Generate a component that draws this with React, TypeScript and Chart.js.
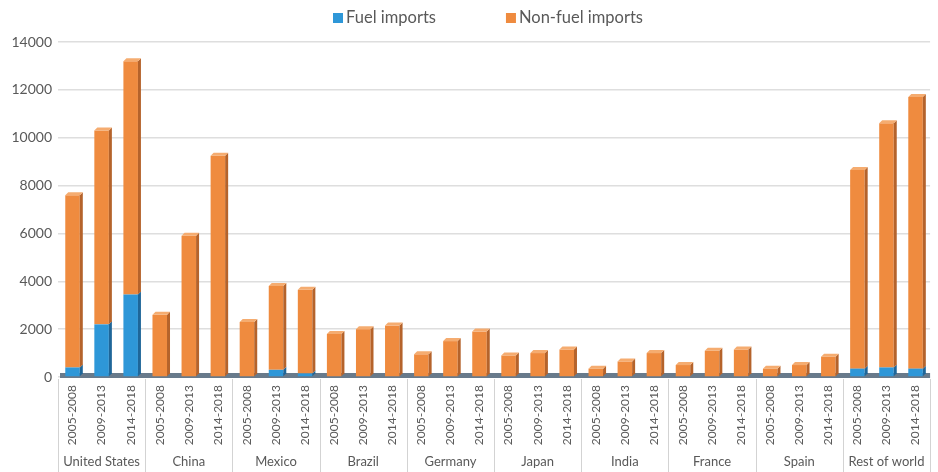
import React, { useEffect, useRef } from "react";
import { Chart, registerables } from "chart.js";

Chart.register(...registerables);

// Import values by country and period, as plotted
const countries = [
  "United States", "China", "Mexico", "Brazil", "Germany",
  "Japan", "India", "France", "Spain", "Rest of world",
];
const periods = ["2005-2008", "2009-2013", "2014-2018"];

const fuelImports = [
  400, 2200, 3450,
  0, 0, 0,
  0, 300, 150,
  0, 0, 0,
  0, 0, 0,
  0, 0, 0,
  0, 0, 0,
  0, 0, 0,
  0, 0, 0,
  350, 400, 350,
];
const nonFuelImports = [
  7200, 8100, 9750,
  2600, 5900, 9250,
  2300, 3500, 3500,
  1800, 2000, 2150,
  950, 1500, 1900,
  900, 1000, 1150,
  350, 650, 1000,
  500, 1100, 1150,
  350, 500, 850,
  8300, 10200, 11350,
];
const yMin = 0;
const yMax = 14000;
const yStep = 2000;

const FONT = "Lato, 'Open Sans', sans-serif";
const TEXT = "#595959";
const FUEL = "#2E97D8";
const NONFUEL = "#EF8B3F";
const SIDE: Record<string, string> = { [FUEL]: "#1E6699", [NONFUEL]: "#B5632B" };
const CAP = "#F5AC70";

const labels = countries.flatMap(() => periods);

// Gives the bars a shallow extruded look: darker right side plus a lighter top cap.
const extrudePlugin = {
  id: "extrude",
  beforeDatasetsDraw(chart: any) {
    const { ctx, chartArea } = chart;
    ctx.save();
    ctx.fillStyle = "#687A8B";
    ctx.fillRect(chartArea.left + 2, chartArea.bottom - 4, chartArea.right - chartArea.left - 2, 5);
    ctx.restore();
  },
  afterDatasetsDraw(chart: any) {
    const { ctx } = chart;
    const d = 3;
    const n = chart.data.datasets.length;
    ctx.save();
    chart.data.datasets.forEach((ds: any, di: number) => {
      const meta = chart.getDatasetMeta(di);
      meta.data.forEach((bar: any, i: number) => {
        const v = ds.data[i];
        if (!v) return;
        const { x, y, base, width } = bar.getProps(["x", "y", "base", "width"], true);
        const r = x + width / 2;
        const l = x - width / 2;
        ctx.fillStyle = SIDE[ds.backgroundColor];
        ctx.beginPath();
        ctx.moveTo(r, y);
        ctx.lineTo(r + d, y - d);
        ctx.lineTo(r + d, base - d);
        ctx.lineTo(r, base);
        ctx.closePath();
        ctx.fill();
        // cap only on the uppermost non-empty segment
        let top = true;
        for (let k = di + 1; k < n; k++) if (chart.data.datasets[k].data[i]) top = false;
        if (top) {
          ctx.fillStyle = ds.backgroundColor === FUEL ? "#5DB4E6" : CAP;
          ctx.beginPath();
          ctx.moveTo(l, y);
          ctx.lineTo(l + d, y - d);
          ctx.lineTo(r + d, y - d);
          ctx.lineTo(r, y);
          ctx.closePath();
          ctx.fill();
        }
      });
    });
    ctx.restore();
  },
};

// Country names under the period ticks, with separators between country groups.
const groupAxisPlugin = {
  id: "groupAxis",
  afterDraw(chart: any) {
    const { ctx, chartArea } = chart;
    const xs = chart.scales.x;
    const cw = (xs.right - xs.left) / labels.length;
    const h = chart.height;
    ctx.save();
    ctx.strokeStyle = "#D3D3D3";
    ctx.lineWidth = 1;
    for (let g = 0; g <= countries.length; g++) {
      const xb = Math.round(xs.getPixelForValue(g * periods.length) - cw / 2) + 0.5;
      ctx.beginPath();
      ctx.moveTo(xb, chartArea.bottom + 2);
      ctx.lineTo(xb, h);
      ctx.stroke();
    }
    ctx.fillStyle = TEXT;
    ctx.font = `13px ${FONT}`;
    ctx.textAlign = "center";
    ctx.textBaseline = "middle";
    countries.forEach((c, g) => {
      const xc = xs.getPixelForValue(g * periods.length + 1);
      ctx.fillText(c, xc, h - 10);
    });
    ctx.restore();
  },
};

// Legend row across the top
const legendPlugin = {
  id: "topLegend",
  afterDraw(chart: any) {
    const { ctx } = chart;
    const box = 10;
    const gap = 3;
    const itemGap = 70;
    const centerX = 488;
    const cy = 18;
    ctx.save();
    ctx.font = `16.5px ${FONT}`;
    const items = chart.data.datasets.map((ds: any) => ({
      text: ds.label,
      color: ds.backgroundColor,
      w: ctx.measureText(ds.label).width,
    }));
    const total = items.reduce((s: number, it: any) => s + box + gap + it.w, 0) + itemGap * (items.length - 1);
    let x = centerX - total / 2;
    ctx.textBaseline = "middle";
    ctx.textAlign = "left";
    items.forEach((it: any) => {
      ctx.fillStyle = it.color;
      ctx.fillRect(x, cy - box / 2, box, box);
      ctx.fillStyle = TEXT;
      ctx.fillText(it.text, x + box + gap, cy);
      x += box + gap + it.w + itemGap;
    });
    ctx.restore();
  },
};

export default function App() {
  const ref = useRef<HTMLCanvasElement | null>(null);

  useEffect(() => {
    if (!ref.current) return;
    const chart = new Chart(ref.current, {
      type: "bar",
      data: {
        labels,
        datasets: [
          {
            label: "Fuel imports",
            data: fuelImports,
            backgroundColor: FUEL,
            stack: "imports",
            barPercentage: 0.5,
            categoryPercentage: 1,
          },
          {
            label: "Non-fuel imports",
            data: nonFuelImports,
            backgroundColor: NONFUEL,
            stack: "imports",
            barPercentage: 0.5,
            categoryPercentage: 1,
          },
        ],
      },
      options: {
        responsive: false,
        animation: false,
        layout: { padding: { top: 42, right: 3, left: 0, bottom: 0 } },
        plugins: {
          legend: { display: false },
          tooltip: { enabled: false },
        },
        scales: {
          x: {
            stacked: true,
            grid: { display: false, drawTicks: false },
            border: { display: false },
            ticks: {
              autoSkip: false,
              minRotation: 90,
              maxRotation: 90,
              padding: 8,
              color: TEXT,
              font: { size: 12, family: FONT },
            },
            afterFit(scale: any) {
              scale.height = 95;
            },
          },
          y: {
            stacked: true,
            min: yMin,
            max: yMax,
            grid: { color: "#DEDEDE", lineWidth: 1.5, drawTicks: false },
            border: { display: false },
            ticks: {
              stepSize: yStep,
              padding: 6,
              color: TEXT,
              font: { size: 14, family: FONT },
              callback: (v: any) => String(v),
            },
            afterFit(scale: any) {
              scale.width = 58;
            },
          },
        },
      },
      plugins: [extrudePlugin, groupAxisPlugin, legendPlugin],
    });
    return () => chart.destroy();
  }, []);

  return (
    <div style={{ position: "fixed", left: 0, top: 0, width: 938, height: 472, background: "#fff" }}>
      <canvas ref={ref} width={938} height={472} style={{ display: "block" }} />
    </div>
  );
}
